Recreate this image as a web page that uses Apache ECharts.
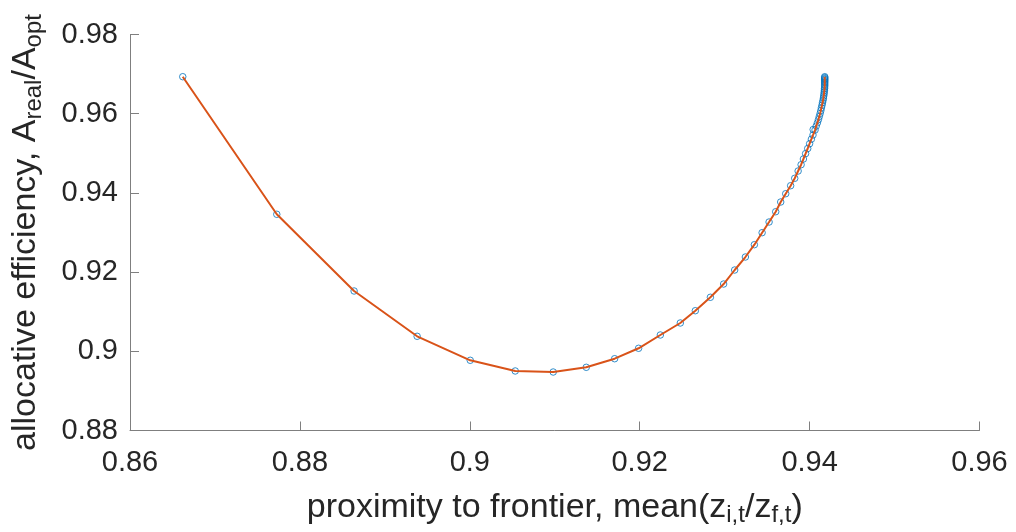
<!DOCTYPE html>
<html>
<head>
<meta charset="utf-8">
<script src="https://cdn.jsdelivr.net/npm/echarts@6/dist/echarts.min.js"></script>
<style>
html,body{margin:0;padding:0;background:#fff;}
#chart{width:1016px;height:532px;}
</style>
</head>
<body>
<div id="chart"></div>
<script>
// proximity to frontier (x) and allocative efficiency (y)
const xVals = [
  0.86621, 0.87728, 0.88638, 0.89380, 0.90005, 0.90535, 0.90982, 0.91371, 0.91705, 0.91987,
  0.92243, 0.92478, 0.92655, 0.92832, 0.92988, 0.93118, 0.93244, 0.93350, 0.93441, 0.93523,
  0.93601, 0.93660, 0.93719, 0.93777, 0.93825, 0.93865, 0.93900, 0.93927, 0.93953, 0.93978,
  0.94000, 0.94021, 0.94040, 0.94064, 0.94042, 0.94078, 0.94092, 0.94104, 0.94114, 0.94124,
  0.94132, 0.94139, 0.94146, 0.94152, 0.94158, 0.94163, 0.94166, 0.94170, 0.94172, 0.94174,
  0.94176, 0.94177, 0.94178, 0.94178, 0.94178, 0.94178, 0.94178, 0.94178, 0.94178, 0.94178,
  0.94178
];
const yVals = [
  0.96934, 0.93460, 0.91523, 0.90379, 0.89773, 0.89503, 0.89477, 0.89596, 0.89813, 0.90076,
  0.90412, 0.90715, 0.91025, 0.91364, 0.91699, 0.92053, 0.92381, 0.92692, 0.92995, 0.93265,
  0.93525, 0.93770, 0.93980, 0.94182, 0.94369, 0.94553, 0.94712, 0.94856, 0.94992, 0.95121,
  0.95242, 0.95356, 0.95462, 0.95588, 0.95601, 0.95689, 0.95770, 0.95851, 0.95929, 0.96005,
  0.96078, 0.96149, 0.96215, 0.96278, 0.96338, 0.96394, 0.96447, 0.96497, 0.96545, 0.96591,
  0.96634, 0.96674, 0.96712, 0.96747, 0.96780, 0.96811, 0.96838, 0.96864, 0.96886, 0.96912,
  0.96934
];
const xTickLabels = ['0.86', '0.88', '0.9', '0.92', '0.94', '0.96'];
const yTickLabels = ['0.88', '0.9', '0.92', '0.94', '0.96', '0.98'];

const pts = xVals.map((x, i) => [x, yVals[i]]);
const FONT = '"Liberation Sans", Arial, Helvetica, sans-serif';
const TXT = '#262626';
const AX = '#7f7f7f';

function lookup(labels, min, step) {
  return function (v) {
    const i = Math.round((v - min) / step);
    return labels[i] !== undefined ? labels[i] : '';
  };
}

const nameRich = {
  n: {fontSize: 34, lineHeight: 40, color: TXT, fontFamily: FONT},
  s: {fontSize: 24, lineHeight: 24, color: TXT, fontFamily: FONT, padding: [21, 0, 0, 0], verticalAlign: 'bottom'}
};

const chart = echarts.init(document.getElementById('chart'), null, {renderer: 'canvas'});
chart.setOption({
  animation: false,
  backgroundColor: '#ffffff',
  grid: {left: 130, right: 36.5, top: 34.5, bottom: 101.5, containLabel: false, outerBoundsMode: 'none'},
  xAxis: {
    type: 'value', min: 0.86, max: 0.96, interval: 0.02,
    axisLine: {show: true, lineStyle: {color: AX, width: 1}},
    axisTick: {show: true, inside: true, length: 9, lineStyle: {color: AX}},
    splitLine: {show: false},
    axisLabel: {color: TXT, fontSize: 29, fontFamily: FONT, margin: 18, formatter: lookup(xTickLabels, 0.86, 0.02)},
    name: '{n|proximity to frontier, mean(z}{s|i,t}{n|/z}{s|f,t}{n|)}',
    nameLocation: 'middle', nameGap: 46,
    nameTextStyle: {rich: nameRich, color: TXT, fontSize: 34, fontFamily: FONT}
  },
  yAxis: {
    type: 'value', min: 0.88, max: 0.98, interval: 0.02,
    axisLine: {show: true, lineStyle: {color: AX, width: 1}},
    axisTick: {show: true, inside: true, length: 9, lineStyle: {color: AX}},
    splitLine: {show: false},
    axisLabel: {color: TXT, fontSize: 29, fontFamily: FONT, margin: 12, formatter: lookup(yTickLabels, 0.88, 0.02)},
    name: '{n|allocative efficiency, A}{s|real}{n|/A}{s|opt}',
    nameLocation: 'middle', nameRotate: 90, nameGap: 84,
    nameTextStyle: {rich: nameRich, color: TXT, fontSize: 34, fontFamily: FONT}
  },
  series: [
    {
      type: 'scatter', data: pts, z: 2,
      symbol: 'circle', symbolSize: 6.5,
      itemStyle: {color: 'rgba(0,0,0,0)', borderColor: '#0072BD', borderWidth: 1}
    },
    {
      type: 'line', data: pts, z: 3,
      showSymbol: false, symbol: 'none',
      lineStyle: {color: '#D95319', width: 2}
    }
  ]
});
</script>
</body>
</html>
